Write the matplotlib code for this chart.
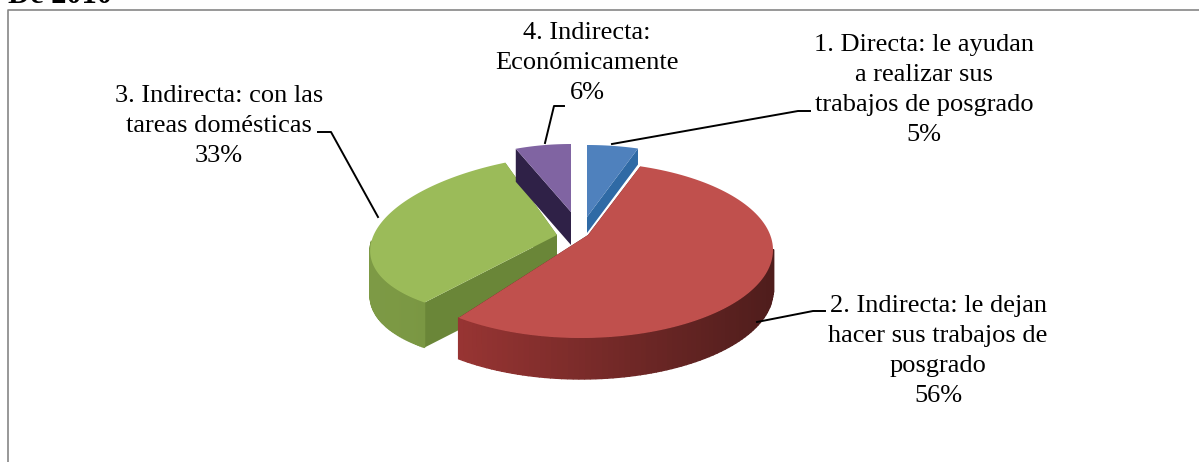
import numpy as np
import matplotlib
matplotlib.use('Agg')
import matplotlib.pyplot as plt
from matplotlib.colors import to_rgb

# datos
etiquetas = ['1. Directa: le ayudan\na realizar sus\ntrabajos de posgrado\n5%',
             '2. Indirecta: le dejan\nhacer sus trabajos de\nposgrado\n56%',
             '3. Indirecta: con las\ntareas domésticas\n33%',
             '4. Indirecta:\nEconómicamente\n6%']
valores = [5, 56, 33, 6]
titulo = 'De 2010'

# forma de cada sector: centro x, centro y, radio x, radio y, fondo, vertice x, vertice y, sesgo x, sesgo y
forma = [(587, 217, 165, 72, 16, 587, 217, 0, 0),
         (581, 250, 192, 88, 41, 588, 235, 0, 0),
         (557, 235, 186, 81, 45, 557, 235, 18, -8),
         (571, 212, 150, 68, 33, 571, 212, 0, 0)]
cara = ['#4f81bd', '#c0504d', '#9bbb59', '#8064a2']
pared_a = ['#2f6aa5', '#a83a38', '#7d9a45', '#2f2147']
pared_b = ['#2f6aa5', '#4f1d1c', '#6a8638', '#2f2147']

fig = plt.figure(figsize=(11.99, 4.62), dpi=100)
ax = fig.add_axes([0, 0, 1, 1])
ax.set_xlim(0, 1199)
ax.set_ylim(462, 0)
ax.axis('off')
plt.rcParams['font.family'] = ['Liberation Serif', 'DejaVu Serif']

# marco
ax.plot([8, 8, 1210], [470, 10, 10], color='#868686', lw=1.2, zorder=1)
ax.text(8, 3, titulo, fontsize=22, fontweight='bold', ha='left', va='baseline', zorder=1)

# angulos desde los valores (sentido horario desde arriba)
total = sum(valores)
limites = np.cumsum([0] + valores) / total * 2 * np.pi


def punto(f, a):
    return (f[0] + f[2] * np.sin(a) + f[7] * np.cos(a),
            f[1] - f[3] * np.cos(a) + f[8] * np.sin(a))


def mezcla(c1, c2, t):
    c1, c2 = np.array(to_rgb(c1)), np.array(to_rgb(c2))
    return c1 + (c2 - c1) * t


for i in [2, 3, 0, 1]:
    f = forma[i]
    a0, a1 = limites[i], limites[i + 1]
    z = 5 + i if i != 1 else 10
    # pared recta del sector
    for a in (a0, a1):
        x, y = punto(f, a)
        ax.fill([f[5], x, x, f[5]], [f[6], y, y + f[4], f[6] + f[4]],
                color=pared_b[i], lw=0, zorder=z)
    # pared curva con degradado, solo la parte que mira al frente
    ang = np.linspace(a0, a1, 120)
    for k in range(len(ang) - 1):
        if np.cos(ang[k]) > 0.02:
            continue
        x0, y0 = punto(f, ang[k])
        x1, y1 = punto(f, ang[k + 1])
        t = np.clip((x0 - (f[0] - f[2])) / (2 * f[2]), 0, 1)
        col = mezcla(pared_a[i], pared_b[i], t)
        ax.fill([x0, x1, x1, x0], [y0, y1, y1 + f[4], y0 + f[4]],
                fc=col, lw=1, ec=col, zorder=z)
    # cara superior
    xs, ys = punto(f, ang)
    ax.fill(np.r_[f[5], xs], np.r_[f[6], ys], color=cara[i], lw=0, zorder=z + 0.5)

# lineas guia
guias = [([612, 798, 810], [144, 111, 111]),
         ([757, 813, 825], [322, 311, 311]),
         ([378, 331, 318], [217, 132, 132]),
         ([545, 554, 564], [143, 106, 106])]
for gx, gy in guias:
    ax.plot(gx, gy, color='black', lw=1.4, zorder=20)

pos_texto = [(924, 90), (938, 351), (219, 126), (587, 63)]
for (x, y), t in zip(pos_texto, etiquetas):
    ax.text(x, y, t, ha='center', va='center', fontsize=19, linespacing=1.47, color='black', zorder=21)

fig.savefig('out.png', dpi=100)
